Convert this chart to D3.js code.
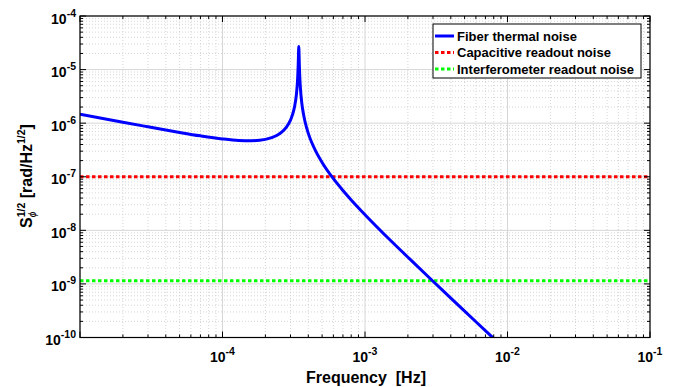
<!DOCTYPE html>
<html><head><meta charset="utf-8">
<script src="https://cdn.jsdelivr.net/npm/d3@7"></script>
<style>body{margin:0;background:#fff}svg{display:block}</style></head>
<body><svg id="c" width="675" height="387"></svg>
<script>
// ---- data ----
const freq = [1e-5, 2e-5, 3e-5, 5e-5, 7e-5, 1e-4, 1.3e-4, 1.6e-4, 2e-4, 2.4e-4, 2.6e-4, 2.8e-4, 3.0e-4, 3.1e-4, 3.2e-4, 3.3e-4, 3.35e-4, 3.38e-4, 3.40e-4, 3.42e-4, 3.43e-4, 3.44e-4, 3.46e-4, 3.48e-4, 3.52e-4, 3.6e-4, 3.7e-4, 3.8e-4, 4.0e-4, 4.2e-4, 4.5e-4, 5e-4, 6e-4, 7e-4, 8e-4, 1e-3, 1.5e-3, 2e-3, 3e-3, 4e-3, 6e-3, 8e-3, 1e-2];
const fiberNoise = [1.47e-6, 1.04e-6, 8.56e-7, 6.72e-7, 5.80e-7, 5.08e-7, 4.76e-7, 4.70e-7, 4.98e-7, 5.88e-7, 6.78e-7, 8.33e-7, 1.14e-6, 1.44e-6, 2.0e-6, 3.42e-6, 5.4e-6, 8.3e-6, 1.28e-5, 2.29e-5, 2.70e-5, 2.28e-5, 1.26e-5, 8.1e-6, 4.6e-6, 2.4e-6, 1.48e-6, 1.05e-6, 6.46e-7, 4.54e-7, 3.04e-7, 1.85e-7, 9.2e-8, 5.55e-8, 3.7e-8, 1.96e-8, 6.6e-9, 3.15e-9, 1.12e-9, 5.45e-10, 1.97e-10, 9.6e-11, 5.5e-11];
const capacitiveLevel = [1e-7, 1e-7];
const interferometerLevel = [1.15e-9, 1.15e-9];
const levelFreq = [1e-5, 1e-1];
const xTickValues = [1e-4, 1e-3, 1e-2, 1e-1];
const xTickExps = ["-4", "-3", "-2", "-1"];
const yTickValues = [1e-10, 1e-9, 1e-8, 1e-7, 1e-6, 1e-5, 1e-4];
const yTickExps = ["-10", "-9", "-8", "-7", "-6", "-5", "-4"];
const seriesNames = ["Fiber thermal noise", "Capacitive readout noise", "Interferometer readout noise"];
const seriesColors = ["#0000ff", "#ff0000", "#00ff00"];

// ---- layout ----
const L = 80, R = 650, T = 16, B = 337.5;
const svg = d3.select("#c");
const FONT = "'Liberation Sans', Arial, Helvetica, sans-serif";
const x = d3.scaleLog().domain([1e-5, 1e-1]).range([L, R]);
const y = d3.scaleLog().domain([1e-10, 1e-4]).range([B, T]);

svg.append("rect").attr("x", L).attr("y", T).attr("width", R - L).attr("height", B - T).attr("fill", "#fff");

// minor values
const xMinor = [], yMinor = [];
for (let e = -5; e < -1; e++) for (let m = 2; m <= 9; m++) xMinor.push(m * Math.pow(10, e));
for (let e = -10; e < -4; e++) for (let m = 2; m <= 9; m++) yMinor.push(m * Math.pow(10, e));
const xMajor = [1e-5, 1e-4, 1e-3, 1e-2, 1e-1];

const grid = svg.append("g");
grid.selectAll(".gxm").data(xMinor).join("line")
  .attr("x1", d => x(d)).attr("x2", d => x(d)).attr("y1", T).attr("y2", B)
  .attr("stroke", "#cccccc").attr("stroke-width", 0.8).attr("stroke-dasharray", "1,2");
grid.selectAll(".gym").data(yMinor).join("line")
  .attr("y1", d => y(d)).attr("y2", d => y(d)).attr("x1", L).attr("x2", R)
  .attr("stroke", "#cccccc").attr("stroke-width", 0.8).attr("stroke-dasharray", "1,2");
grid.selectAll(".gxM").data(xMajor).join("line")
  .attr("x1", d => x(d)).attr("x2", d => x(d)).attr("y1", T).attr("y2", B)
  .attr("stroke", "#d6d6d6").attr("stroke-width", 1);
grid.selectAll(".gyM").data(yTickValues).join("line")
  .attr("y1", d => y(d)).attr("y2", d => y(d)).attr("x1", L).attr("x2", R)
  .attr("stroke", "#d6d6d6").attr("stroke-width", 1);

// ---- series ----
svg.append("clipPath").attr("id", "clip").append("rect")
  .attr("x", L).attr("y", T).attr("width", R - L).attr("height", B - T);
const plot = svg.append("g").attr("clip-path", "url(#clip)");

const lineGen = d3.line().x(d => x(d[0])).y(d => y(d[1]));
plot.append("path").datum(levelFreq.map((f, i) => [f, capacitiveLevel[i]]))
  .attr("d", lineGen).attr("fill", "none").attr("stroke", seriesColors[1])
  .attr("stroke-width", 3).attr("stroke-dasharray", "3.5,2.5");
plot.append("path").datum(levelFreq.map((f, i) => [f, interferometerLevel[i]]))
  .attr("d", lineGen).attr("fill", "none").attr("stroke", seriesColors[2])
  .attr("stroke-width", 3).attr("stroke-dasharray", "3.5,2.5");
plot.append("path").datum(freq.map((f, i) => [f, fiberNoise[i]]))
  .attr("d", d3.line().x(d => x(d[0])).y(d => y(d[1])).curve(d3.curveMonotoneX))
  .attr("fill", "none").attr("stroke", seriesColors[0]).attr("stroke-width", 3)
  .attr("stroke-linejoin", "round");

// ---- axes (box with inward ticks) ----
const ax = svg.append("g").attr("stroke", "#000");
function xt(vals, len) {
  ax.selectAll(null).data(vals).join("line").attr("x1", d => x(d)).attr("x2", d => x(d))
    .attr("y1", B).attr("y2", B - len).attr("stroke-width", 1);
  ax.selectAll(null).data(vals).join("line").attr("x1", d => x(d)).attr("x2", d => x(d))
    .attr("y1", T).attr("y2", T + len).attr("stroke-width", 1);
}
function yt(vals, len) {
  ax.selectAll(null).data(vals).join("line").attr("y1", d => y(d)).attr("y2", d => y(d))
    .attr("x1", L).attr("x2", L + len).attr("stroke-width", 1);
  ax.selectAll(null).data(vals).join("line").attr("y1", d => y(d)).attr("y2", d => y(d))
    .attr("x1", R).attr("x2", R - len).attr("stroke-width", 1);
}
xt(xMinor, 3); xt(xMajor, 6); yt(yMinor, 3); yt(yTickValues, 6);
svg.append("rect").attr("x", L).attr("y", T).attr("width", R - L).attr("height", B - T)
  .attr("fill", "none").attr("stroke", "#000").attr("stroke-width", 1.2);

// tick labels
const xl = svg.append("g").attr("font-family", FONT).attr("font-weight", "bold");
xTickValues.forEach((v, i) => {
  const t = xl.append("text").attr("x", x(v)).attr("y", B + 24).attr("text-anchor", "middle")
    .attr("font-size", 14).attr("fill", "#000");
  t.append("tspan").text("10");
  t.append("tspan").attr("font-size", 10.5).attr("dy", -7).text(xTickExps[i]);
});
yTickValues.forEach((v, i) => {
  const t = xl.append("text").attr("x", L - 4).attr("y", y(v) + 7.5).attr("text-anchor", "end")
    .attr("font-size", 14).attr("fill", "#000");
  t.append("tspan").text("10");
  t.append("tspan").attr("font-size", 10.5).attr("dy", -7).text(yTickExps[i]);
});

// axis titles
svg.append("text").attr("x", (L + R) / 2 + 1).attr("y", 383).attr("text-anchor", "middle")
  .attr("font-family", FONT).attr("font-weight", "bold").attr("font-size", 16)
  .attr("xml:space", "preserve").style("white-space", "pre").text("Frequency  [Hz]");

const yl = svg.append("g").attr("transform", "translate(32,176) rotate(-90)")
  .attr("font-family", FONT).attr("font-weight", "bold").attr("fill", "#000");
let cx = 0;
function piece(str, size, dy, extra) {
  const t = yl.append("text").attr("x", cx).attr("y", dy).attr("font-size", size)
    .style("white-space", "pre").text(str);
  if (extra) extra(t);
  return t.node().getComputedTextLength();
}
cx += piece("S", 16, 0);
const w1 = piece("1/2", 10.5, -7);
const w2 = piece("\u03D5", 10, 4, t => t.attr("font-weight", "normal").attr("font-style", "italic"));
cx += Math.max(w1, w2);
cx += piece(" [rad/Hz", 16, 0);
cx += piece("1/2", 10.5, -7);
cx += piece("]", 16, 0);
yl.selectAll("text").attr("x", function () { return +d3.select(this).attr("x") - cx / 2; });

// legend
const lg = svg.append("g");
lg.append("rect").attr("x", 433).attr("y", 24).attr("width", 208).attr("height", 54)
  .attr("fill", "#fff").attr("stroke", "#000").attr("stroke-width", 1);
const ly = [36, 52.5, 69];
seriesNames.forEach((name, i) => {
  lg.append("line").attr("x1", 435).attr("x2", 454).attr("y1", ly[i]).attr("y2", ly[i])
    .attr("stroke", seriesColors[i]).attr("stroke-width", 3)
    .attr("stroke-dasharray", i === 0 ? null : "3.5,2.5");
  lg.append("text").attr("x", 457).attr("y", ly[i] + 4.5).attr("font-family", FONT)
    .attr("font-weight", "bold").attr("font-size", 13).attr("fill", "#000").text(name);
});
</script></body></html>
